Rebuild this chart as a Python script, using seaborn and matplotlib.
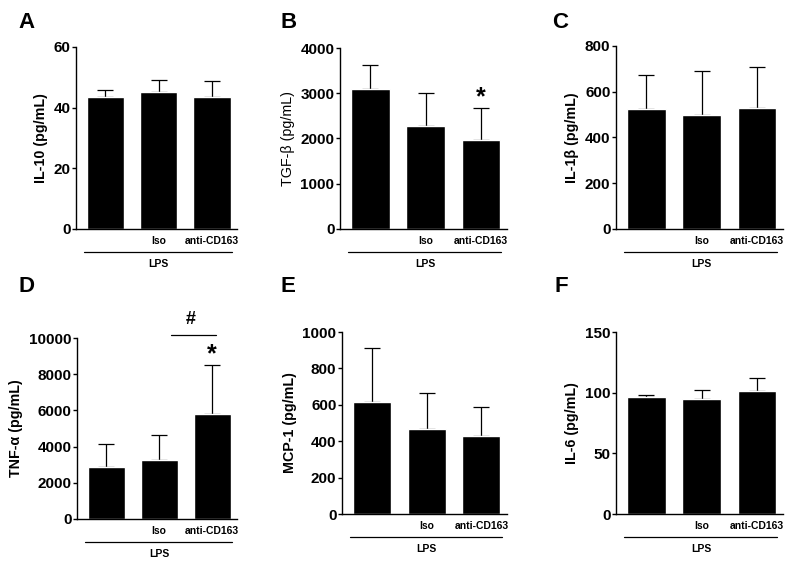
import matplotlib
matplotlib.use("Agg")
import matplotlib.pyplot as plt
import seaborn as sns
import numpy as np
import pandas as pd

sns.set_theme(style="ticks")
plt.rcParams['font.family'] = ['Liberation Sans', 'DejaVu Sans']
plt.rcParams['text.color'] = 'black'
plt.rcParams['axes.labelcolor'] = 'black'
plt.rcParams['xtick.color'] = 'black'
plt.rcParams['ytick.color'] = 'black'
plt.rcParams['axes.edgecolor'] = 'black'

groups = ["LPS", "Iso", "anti-CD163"]
tick_labels = ["", "Iso", "anti-CD163"]

il10_mean = [43.5, 45.2, 43.4]
il10_err = [2.4, 3.8, 5.4]
tgfb_mean = [3100, 2270, 1960]
tgfb_err = [520, 740, 720]
il1b_mean = [525, 500, 529]
il1b_err = [148, 189, 178]
tnfa_mean = [2870, 3280, 5800]
tnfa_err = [1290, 1340, 2700]
mcp1_mean = [617, 465, 429]
mcp1_err = [295, 198, 157]
il6_mean = [96.7, 95.1, 101.1]
il6_err = [1.7, 7.4, 11.0]

panels = [
    dict(letter="A", label="IL-10 (pg/mL)", bold=True, mean=il10_mean, err=il10_err,
         ticks=[0, 20, 40, 60], px=(76, 237, 47, 229), lpos=(18, 23)),
    dict(letter="B", label="TGF-β (pg/mL)", bold=False, mean=tgfb_mean, err=tgfb_err,
         ticks=[0, 1000, 2000, 3000, 4000], px=(340, 507, 48, 229), lpos=(280, 23)),
    dict(letter="C", label="IL-1β (pg/mL)", bold=True, mean=il1b_mean, err=il1b_err,
         ticks=[0, 200, 400, 600, 800], px=(616, 783, 46, 229), lpos=(552, 23)),
    dict(letter="D", label="TNF-α (pg/mL)", bold=True, mean=tnfa_mean, err=tnfa_err,
         ticks=[0, 2000, 4000, 6000, 8000, 10000], px=(77, 237, 338, 519), lpos=(19, 286)),
    dict(letter="E", label="MCP-1 (pg/mL)", bold=True, mean=mcp1_mean, err=mcp1_err,
         ticks=[0, 200, 400, 600, 800, 1000], px=(342, 507, 332, 514), lpos=(280, 286)),
    dict(letter="F", label="IL-6 (pg/mL)", bold=True, mean=il6_mean, err=il6_err,
         ticks=[0, 50, 100, 150], px=(616, 783, 332, 514), lpos=(554, 286)),
]

W, H = 800, 567
fig = plt.figure(figsize=(8, 5.67), dpi=100)
fig.patch.set_facecolor("white")

axes = []
for p in panels:
    l, r, t, b = p["px"]
    ax = fig.add_axes([l / W, 1 - b / H, (r - l) / W, (b - t) / H])
    axes.append(ax)
    df = pd.DataFrame({"group": groups, "value": p["mean"]})
    sns.barplot(data=df, x="group", y="value", order=groups, color="black",
                saturation=1, width=0.7, errorbar=None, ax=ax, zorder=2)
    ax.errorbar(range(3), p["mean"], yerr=[np.zeros(3), p["err"]], fmt="none",
                ecolor="black", elinewidth=0.9, capsize=6, capthick=0.9, zorder=1)
    ax.set_xlim(-0.55, 2.47)
    ax.set_ylim(0, p["ticks"][-1])
    ax.set_yticks(p["ticks"])
    ax.set_yticklabels([str(v) for v in p["ticks"]], fontsize=11, fontweight="bold")
    ax.set_xticks(range(3))
    ax.set_xticklabels(tick_labels, fontsize=7.5, fontweight="bold")
    ax.tick_params(axis="x", length=0, pad=5)
    ax.tick_params(axis="y", length=3, width=1, pad=1, color="black")
    ax.set_xlabel("")
    ax.set_ylabel(p["label"], fontsize=10.3, fontweight="bold" if p["bold"] else "normal",
                  labelpad=4)
    for s in ["top", "right"]:
        ax.spines[s].set_visible(False)
    for s in ["left", "bottom"]:
        ax.spines[s].set_color("black")
        ax.spines[s].set_linewidth(1.0)
    ax.set_facecolor("white")
    hpx = b - t
    trans = ax.get_xaxis_transform()
    ax.plot([-0.4, 2.37], [-23 / hpx, -23 / hpx], color="black", lw=0.9,
            transform=trans, clip_on=False)
    ax.text(1.0, -35 / hpx, "LPS", transform=trans, ha="center", va="center",
            fontsize=7.5, fontweight="bold")
    fig.text(p["lpos"][0] / W, 1 - p["lpos"][1] / H, p["letter"], fontsize=16,
             fontweight="bold", ha="left", va="center")

# significance marks
axB = axes[1]
axB.text(2, 2900, "*", ha="center", va="center", fontsize=18, fontweight="bold")
axD = axes[3]
axD.text(2, 9100, "*", ha="center", va="center", fontsize=18, fontweight="bold")
axD.plot([1.23, 2.07], [10147, 10147], color="black", lw=0.9, clip_on=False)
axD.text(1.6, 11000, "#", ha="center", va="center", fontsize=13, fontweight="bold",
         clip_on=False)

fig.savefig("out.png", dpi=100, facecolor="white")
